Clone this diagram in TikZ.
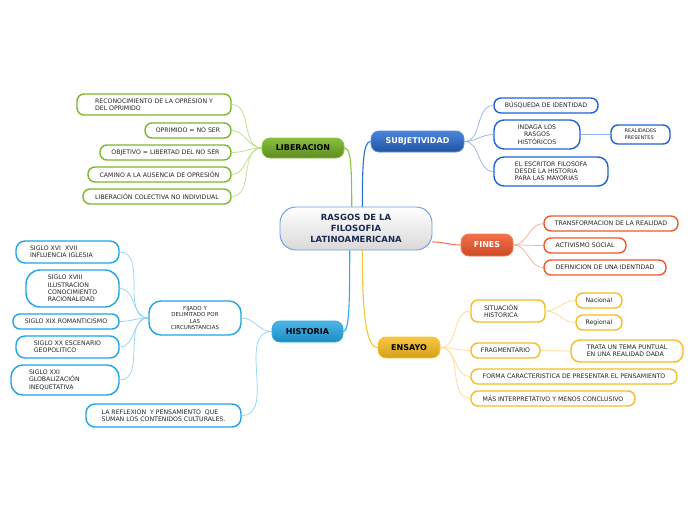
\documentclass[tikz,border=0pt]{standalone}
\usepackage{fontspec}
\setmainfont{DejaVu Sans}
\definecolor{gB}{HTML}{7CB82A}\definecolor{gL}{HTML}{BCDD86}\definecolor{gM}{HTML}{8CC43C}
\definecolor{bB}{HTML}{1F63D6}\definecolor{bL}{HTML}{8FB3EC}\definecolor{bM}{HTML}{2A6FD6}
\definecolor{oB}{HTML}{F0582A}\definecolor{oL}{HTML}{F7AC90}\definecolor{oM}{HTML}{F07A5A}
\definecolor{yB}{HTML}{F7BC20}\definecolor{yL}{HTML}{FCDB90}\definecolor{yM}{HTML}{F8C43A}
\definecolor{cB}{HTML}{1FA4E4}\definecolor{cL}{HTML}{92D2F2}\definecolor{cM}{HTML}{30AAE8}
\definecolor{ctext}{HTML}{1A2A50}
\begin{document}
\begin{tikzpicture}[x=1pt,y=-1pt,
  leaf/.style={draw, fill=white, rounded corners=7pt, line width=1.4pt,
    font=\fontsize{6.2}{7.3}\selectfont, text=black!85, inner sep=1pt, align=left},
  branch/.style={rounded corners=8pt, font=\bfseries\fontsize{8}{9}\selectfont,
    inner sep=1pt, line width=0.8pt},
  gl/.style={draw=gL, line width=0.7pt},
  bl/.style={draw=bL, line width=0.7pt},
  ol/.style={draw=oL, line width=0.7pt},
  yl/.style={draw=yL, line width=0.7pt},
  cl/.style={draw=cL, line width=0.7pt},
  mainline/.style={line width=1.1pt}
]
\useasboundingbox (0,0) rectangle (696,520);
\fill[white] (0,0) rectangle (696,520);

% central
\node[rounded corners=16pt, draw=bM!70, line width=0.9pt, top color=white, bottom color=black!15,
  minimum width=152pt, minimum height=43pt, font=\bfseries\fontsize{8.5}{11}\selectfont,
  text=ctext, align=center, inner sep=1pt] (c) at (356,228.5)
  {RASGOS DE LA\\FILOSOFIA\\LATINOAMERICANA};

% branches
\node[branch, draw=gM, top color=gB!90!white, bottom color=gB!75!black, text=black,
  minimum width=82pt, minimum height=20pt] (lib) at (303,148) {LIBERACION};
\node[branch, draw=bM!80!white, top color=bM!85!white, bottom color=bM!75!black, text=white,
  minimum width=93pt, minimum height=21pt] (sub) at (417.5,141.5) {SUBJETIVIDAD};
\node[branch, draw=oM, top color=oB!85!white, bottom color=oB!85!black, text=white,
  minimum width=52pt, minimum height=22pt] (fin) at (487,245) {FINES};
\node[branch, draw=yM, top color=yB!85!white, bottom color=yB!85!black, text=black,
  minimum width=62pt, minimum height=21pt] (ens) at (409,347.5) {ENSAYO};
\node[branch, draw=cM, top color=cB!80!white, bottom color=cB!85!black, text=black,
  minimum width=71pt, minimum height=21pt] (his) at (307.5,331.5) {HISTORIA};

% main connectors
\draw[mainline, draw=gM] (c.101) .. controls +(0,-45) and +(6,0) .. (lib.east);
\draw[mainline, draw=bM] (c.74) .. controls +(0,-45) and +(-7,0) .. (sub.west);
\draw[mainline, draw=oM] (c.-10) to[out=0,in=180] (fin.west);
\draw[mainline, draw=yM] (c.-74) .. controls +(0,60) and +(-12,0) .. (ens.west);
\draw[mainline, draw=cM] (c.-106) .. controls +(0,50) and +(6,0) .. (his.east);

% LIBERACION leaves
\node[leaf, draw=gB, minimum width=154pt, minimum height=21pt] (l1) at (154,104.5) {RECONOCIMIENTO DE LA OPRESION Y\\DEL OPRIMIDO};
\node[leaf, draw=gB, minimum width=86pt, minimum height=15pt] (l2) at (188,130.5) {OPRIMIDO = NO SER};
\node[leaf, draw=gB, minimum width=131pt, minimum height=15pt] (l3) at (165.5,152.5) {OBJETIVO = LIBERTAD DEL NO SER};
\node[leaf, draw=gB, minimum width=143pt, minimum height=15pt] (l4) at (159.5,174.5) {CAMINO A LA AUSENCIA DE OPRESIÓN};
\node[leaf, draw=gB, minimum width=148pt, minimum height=15pt] (l5) at (157,196.5) {LIBERACIÓN COLECTIVA NO INDIVIDUAL};
\foreach \n in {l1,l2,l3,l4,l5} \draw[gl] (lib.west) to[out=180,in=0] (\n.east);

% SUBJETIVIDAD leaves
\node[leaf, draw=bB, minimum width=104pt, minimum height=15pt] (s1) at (546,105.5) {BÚSQUEDA DE IDENTIDAD};
\node[leaf, draw=bB, minimum width=86pt, minimum height=29pt, align=center, rounded corners=10pt] (s2) at (537,134.5) {INDAGA LOS\\RASGOS\\HISTÓRICOS};
\node[leaf, draw=bB, minimum width=114pt, minimum height=29pt, rounded corners=10pt, font=\fontsize{6.2}{7.1}\selectfont] (s3) at (551,171.5) {EL ESCRITOR FILOSOFA\\DESDE LA HISTORIA\\PARA LAS MAYORIAS};
\node[leaf, draw=bB, minimum width=59pt, minimum height=19pt, font=\fontsize{5}{6.7}\selectfont] (s4) at (640.5,134.5) {REALIDADES\\PRESENTES};
\foreach \n in {s1,s2,s3} \draw[bl] (sub.east) to[out=0,in=180] (\n.west);
\draw[bl] (s2.east) -- (s4.west);

% FINES leaves
\node[leaf, draw=oB, minimum width=134pt, minimum height=15pt] (f1) at (611,223.5) {TRANSFORMACION DE LA REALIDAD};
\node[leaf, draw=oB, minimum width=82pt, minimum height=15pt] (f2) at (585,245.5) {ACTIVISMO SOCIAL};
\node[leaf, draw=oB, minimum width=122pt, minimum height=15pt] (f3) at (605,267.5) {DEFINICION DE UNA IDENTIDAD};
\foreach \n in {f1,f2,f3} \draw[ol] (fin.east) to[out=0,in=180] (\n.west);

% ENSAYO leaves
\node[leaf, draw=yB, minimum width=74pt, minimum height=22pt, text width=48pt] (e1) at (508,311) {SITUACIÓN\\HISTORICA};
\node[leaf, draw=yB, minimum width=46pt, minimum height=15pt] (e2) at (599,300.5) {Nacional};
\node[leaf, draw=yB, minimum width=46pt, minimum height=15pt] (e3) at (599,322.5) {Regional};
\node[leaf, draw=yB, minimum width=69pt, minimum height=15pt] (e4) at (505.5,350.5) {FRAGMENTARIO};
\node[leaf, draw=yB, minimum width=112pt, minimum height=22pt, rounded corners=9pt] (e5) at (627,351) {TRATA UN TEMA PUNTUAL\\EN UNA REALIDAD DADA};
\node[leaf, draw=yB, minimum width=206pt, minimum height=15pt] (e6) at (574,376.5) {FORMA CARACTERISTICA DE PRESENTAR EL PENSAMIENTO};
\node[leaf, draw=yB, minimum width=164pt, minimum height=15pt] (e7) at (553,398.5) {MÁS INTERPRETATIVO Y MENOS CONCLUSIVO};
\foreach \n in {e1,e4,e6,e7} \draw[yl] (ens.east) to[out=0,in=180] (\n.west);
\foreach \n in {e2,e3} \draw[yl] (e1.east) to[out=0,in=180] (\n.west);
\draw[yl] (e4.east) -- (e5.west);

% HISTORIA leaves
\node[leaf, draw=cB, minimum width=92pt, minimum height=34pt, rounded corners=12pt, align=center, font=\fontsize{5.5}{6.6}\selectfont] (h1) at (195,318) {FIJADO Y\\DELIMITADO POR\\LAS\\CIRCUNSTANCIAS};
\node[leaf, draw=cB, minimum width=155pt, minimum height=23pt, rounded corners=9pt] (h2) at (163.5,415.5) {LA REFLEXION\ \ Y PENSAMIENTO\ \ QUE\\SUMAN LOS CONTENIDOS CULTURALES.};
\node[leaf, draw=cB, minimum width=103pt, minimum height=22pt, rounded corners=9pt, text width=75pt] (ha) at (67.5,252) {SIGLO XVI\ \ XVII\\INFLUENCIA IGLESIA};
\node[leaf, draw=cB, minimum width=93pt, minimum height=37pt, rounded corners=14pt] (hb) at (72.5,288.5) {SIGLO XVIII\\ILUSTRACION\\CONOCIMIENTO\\RACIONALIDAD};
\node[leaf, draw=cB, minimum width=106pt, minimum height=15pt] (hc) at (66,321.5) {SIGLO XIX ROMANTICISMO};
\node[leaf, draw=cB, minimum width=103pt, minimum height=22pt, rounded corners=9pt] (hd) at (67.5,347) {SIGLO XX ESCENARIO\\GEOPOLITICO};
\node[leaf, draw=cB, minimum width=108pt, minimum height=30pt, rounded corners=12pt, text width=72pt] (he) at (65,380) {SIGLO XXI\\GLOBALIZACIÓN\\INEQUETATIVA};
\foreach \n in {h1,h2} \draw[cl] (his.west) to[out=180,in=0] (\n.east);
\foreach \n in {ha,hb,hc,hd,he} \draw[cl] (h1.west) to[out=180,in=0] (\n.east);
\end{tikzpicture}
\end{document}
